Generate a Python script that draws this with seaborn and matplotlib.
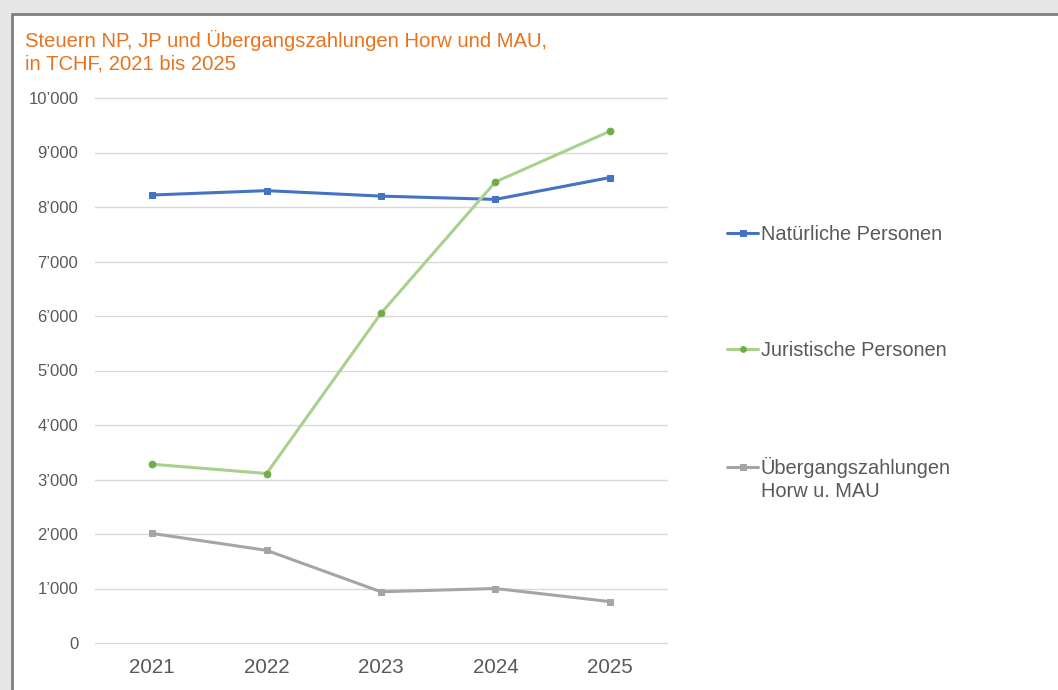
import matplotlib
matplotlib.use("Agg")
import matplotlib.pyplot as plt
import matplotlib.patches as mpatches
from matplotlib.ticker import FuncFormatter, MultipleLocator
import seaborn as sns
import pandas as pd

years = ["2021", "2022", "2023", "2024", "2025"]
natuerliche = [8220, 8300, 8200, 8140, 8540]
juristische = [3280, 3110, 6050, 8460, 9390]
uebergang = [2010, 1700, 940, 1000, 760]

labels = ["Natürliche Personen", "Juristische Personen", "Übergangszahlungen"]
label_extra = "Horw u. MAU"
title = "Steuern NP, JP und Übergangszahlungen Horw und MAU,\nin TCHF, 2021 bis 2025"

sns.set_theme(style="white")
plt.rcParams['font.family'] = ['Liberation Sans', 'DejaVu Sans']

fig = plt.figure(figsize=(10.58, 6.90), dpi=100, facecolor="#e6e6e6")
# white chart area with gray border
bg = mpatches.Rectangle((12/1058, -0.01), 1.1, 1 - 14/690 + 0.01, transform=fig.transFigure,
                        facecolor="white", edgecolor="#7f7f7f", linewidth=2, zorder=-5)
fig.patches.append(bg)

ax = fig.add_axes([95/1058, 1 - 643/690, (667 - 95)/1058, (643 - 98)/690])
ax.set_facecolor("none")

df = pd.DataFrame({"Jahr": years, "NP": natuerliche, "JP": juristische, "UZ": uebergang})

sns.lineplot(data=df, x="Jahr", y="NP", ax=ax, color="#4472C4", linewidth=2.2,
             marker="s", markersize=5, markerfacecolor="#4472C4", markeredgecolor="#4472C4",
             label=labels[0], zorder=3)
sns.lineplot(data=df, x="Jahr", y="JP", ax=ax, color="#A9D18E", linewidth=2.2,
             marker="o", markersize=4.8, markerfacecolor="#70AD47", markeredgecolor="#70AD47",
             label=labels[1], zorder=3)
sns.lineplot(data=df, x="Jahr", y="UZ", ax=ax, color="#A5A5A5", linewidth=2.2,
             marker="s", markersize=5, markerfacecolor="#A5A5A5", markeredgecolor="#A5A5A5",
             label=labels[2], zorder=3)

ax.set_xlim(-0.5, len(years) - 0.5)
ax.set_ylim(0, 10000)
ax.yaxis.set_major_locator(MultipleLocator(1000))
ax.yaxis.set_major_formatter(FuncFormatter(lambda v, p: "0" if v == 0 else f"{int(v):,}".replace(",", "\u2019")))
ax.grid(axis="y", color="#d9d9d9", linewidth=1)
for gl in ax.get_ygridlines():
    gl.set_clip_on(False)
ax.set_axisbelow(True)
for s in ax.spines.values():
    s.set_visible(False)
ax.tick_params(axis="y", labelsize=12, colors="#595959", length=0, pad=12)
ax.tick_params(axis="x", labelsize=14.8, colors="#595959", length=0, pad=11)
ax.set_xlabel("")
ax.set_ylabel("")

fig.text(25/1058, 1 - 30/690, title, color="#E8731E", fontsize=14.6, ha="left", va="top",
         linespacing=1.2)

handles, labs = ax.get_legend_handles_labels()
leg = ax.legend(handles, labs, loc="upper left", bbox_to_anchor=(717/1058, 1 - 215/690),
                bbox_transform=fig.transFigure, frameon=False, fontsize=14.4, labelcolor="#595959",
                labelspacing=4.85, handlelength=1.55, handletextpad=0.15, borderpad=0,
                markerscale=0.85)

# second line of the third legend label, placed right under its first line
fig.canvas.draw()
t3 = leg.get_texts()[2]
bb = t3.get_window_extent(fig.canvas.get_renderer())
inv = fig.transFigure.inverted()
x0, y0 = inv.transform((bb.x0, bb.y0))
fig.text(x0, y0 - 4/690, label_extra, color="#595959", fontsize=14.4, ha="left", va="top")

fig.savefig("out.png", dpi=100, facecolor=fig.get_facecolor())
